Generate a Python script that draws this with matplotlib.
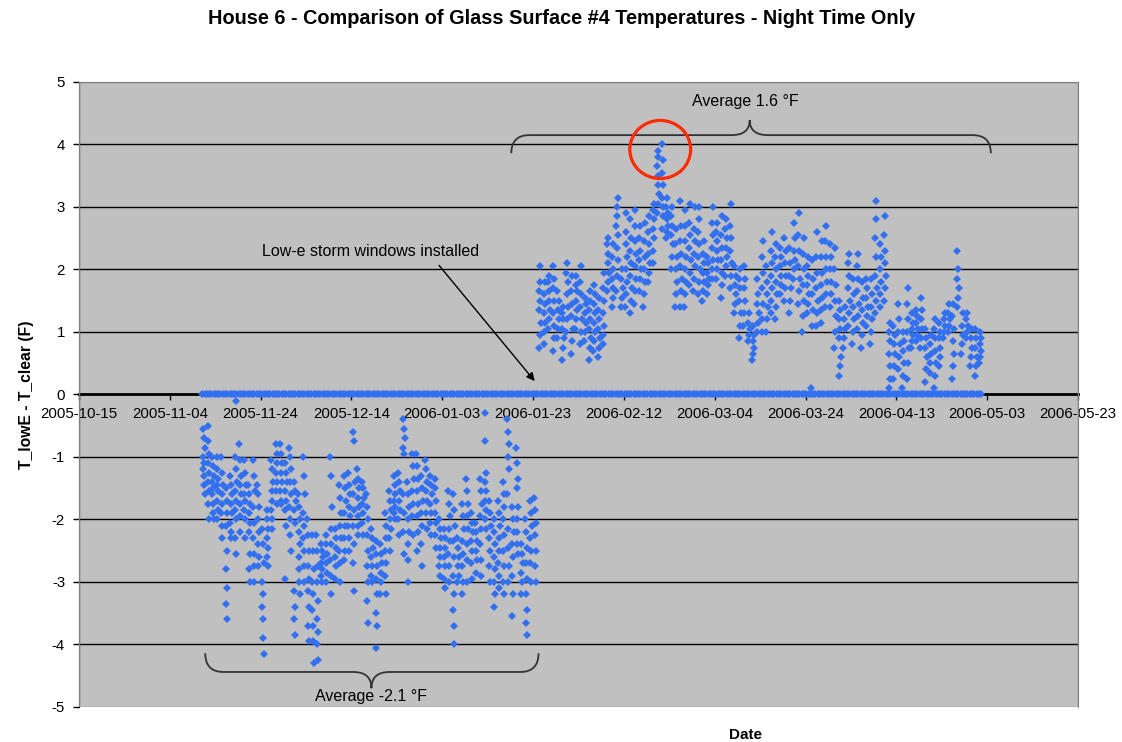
import datetime as dt
import matplotlib
matplotlib.use('Agg')
import matplotlib.pyplot as plt
import matplotlib.dates as mdates
from matplotlib.path import Path
from matplotlib.patches import PathPatch, Ellipse, Rectangle

plt.rcParams['font.family'] = ['Liberation Sans', 'DejaVu Sans']
plt.rcParams['axes.unicode_minus'] = False

# nightly readings before the low-e storm windows (one list per night, from 2005-11-11)
neg_start = dt.date(2005, 11, 11)
neg_nights = [
    [-0.55, -0.7, -0.85, -1.0, -1.1, -1.2, -1.3, -1.45, -1.6],
    [-0.5, -0.75, -0.95, -1.1, -1.25, -1.4, -1.55, -1.75, -2.0],
    [-1.0, -1.15, -1.3, -1.4, -1.5, -1.6, -1.75, -1.9, -2.0],
    [-1.0, -1.2, -1.35, -1.45, -1.55, -1.7, -1.85, -2.0],
    [-1.0, -1.25, -1.45, -1.6, -1.75, -1.9, -2.1, -2.3],
    [-1.5, -1.7, -1.9, -2.1, -2.5, -2.8, -3.1, -3.35, -3.6],
    [-1.3, -1.45, -1.6, -1.75, -1.9, -2.05, -2.2, -2.3],
    [-1.0, -1.2, -1.4, -1.55, -1.7, -1.85, -2.0, -2.3, -2.55],
    [-0.8, -1.05, -1.3, -1.45, -1.6, -1.75, -1.95, -2.2],
    [-1.05, -1.25, -1.45, -1.6, -1.7, -1.85, -2.0, -2.3],
    [-1.45, -1.6, -1.75, -1.9, -2.05, -2.2, -2.55, -2.8, -3.0],
    [-1.05, -1.3, -1.55, -1.8, -2.05, -2.3, -2.55, -2.75, -3.0],
    [-1.45, -1.6, -1.8, -2.0, -2.2, -2.4, -2.6, -2.75],
    [-2.15, -2.4, -2.7, -3.0, -3.2, -3.4, -3.6, -3.9, -4.15],
    [-1.85, -2.0, -2.15, -2.3, -2.45, -2.6, -2.75],
    [-1.05, -1.2, -1.4, -1.55, -1.7, -1.85, -2.0, -2.15],
    [-0.8, -0.95, -1.1, -1.25, -1.4, -1.55, -1.75],
    [-0.8, -0.95, -1.1, -1.25, -1.4, -1.55, -1.7, -1.75],
    [-1.1, -1.25, -1.4, -1.55, -1.7, -1.85, -2.1, -2.95],
    [-0.85, -1.0, -1.2, -1.4, -1.6, -1.8, -2.0, -2.25, -2.5],
    [-1.4, -1.55, -1.7, -1.85, -2.05, -3.15, -3.4, -3.6, -3.85],
    [-1.6, -1.8, -2.0, -2.2, -2.4, -2.6, -2.8, -3.0, -3.2],
    [-1.0, -1.3, -1.6, -1.9, -2.1, -2.3, -2.5, -2.75, -3.0],
    [-2.0, -2.25, -2.5, -2.75, -2.95, -3.15, -3.4, -3.7, -3.95],
    [-2.25, -2.5, -2.8, -3.0, -3.2, -3.45, -3.7, -3.95, -4.3],
    [-2.25, -2.5, -2.75, -3.0, -3.3, -3.6, -3.8, -4.0, -4.25],
    [-2.4, -2.5, -2.6, -2.7, -2.8, -2.9, -3.0],
    [-2.25, -2.4, -2.55, -2.7, -2.85, -3.0],
    [-1.0, -1.3, -1.8, -2.15, -2.4, -2.65, -2.9, -3.2],
    [-2.15, -2.3, -2.45, -2.6, -2.75, -2.95],
    [-1.45, -1.65, -1.9, -2.1, -2.3, -2.5, -2.7, -3.0],
    [-1.3, -1.5, -1.7, -1.9, -2.1, -2.3, -2.5, -2.65],
    [-1.25, -1.45, -1.6, -1.8, -1.95, -2.1, -2.3, -2.5],
    [-0.6, -0.75, -1.4, -1.6, -1.85, -2.1, -2.4, -2.7, -3.15],
    [-1.2, -1.35, -1.5, -1.65, -1.8, -1.95, -2.1, -2.25],
    [-1.4, -1.5, -1.65, -1.75, -1.9, -2.05, -2.25],
    [-1.6, -1.8, -2.0, -2.25, -2.5, -2.75, -3.0, -3.3, -3.65],
    [-2.15, -2.3, -2.45, -2.6, -2.75, -2.9, -3.0],
    [-2.35, -2.55, -2.75, -2.95, -3.2, -3.5, -3.7, -4.05],
    [-2.4, -2.55, -2.7, -2.85, -3.0, -3.2],
    [-1.9, -2.1, -2.3, -2.5, -2.7, -2.9, -3.2],
    [-1.55, -1.7, -1.85, -2.0, -2.15, -2.3, -2.5],
    [-1.3, -1.45, -1.6, -1.7, -1.8, -1.9, -2.0],
    [-1.25, -1.4, -1.55, -1.7, -1.85, -2.0, -2.25],
    [-0.4, -0.55, -0.7, -0.85, -0.95, -1.6, -1.9, -2.2, -2.55],
    [-1.4, -1.6, -1.8, -2.0, -2.2, -2.4, -2.65, -3.0],
    [-0.95, -1.15, -1.35, -1.55, -1.75, -1.95, -2.25],
    [-0.95, -1.15, -1.35, -1.55, -1.75, -1.95, -2.2, -2.5],
    [-1.3, -1.5, -1.7, -1.9, -2.1, -2.4, -2.75],
    [-1.05, -1.2, -1.4, -1.55, -1.7, -1.9, -2.15],
    [-1.3, -1.45, -1.6, -1.75, -1.9, -2.05, -2.25],
    [-1.35, -1.5, -1.7, -1.9, -2.05, -2.25, -2.45],
    [-2.0, -2.15, -2.3, -2.45, -2.6, -2.75, -2.9],
    [-2.15, -2.3, -2.45, -2.6, -2.75, -2.95, -3.1],
    [-1.55, -1.75, -1.95, -2.15, -2.35, -2.55, -2.75, -3.0],
    [-1.6, -1.85, -2.1, -2.35, -2.6, -2.9, -3.2, -3.45, -3.7, -4.0],
    [-2.3, -2.45, -2.6, -2.75, -2.9, -3.0],
    [-1.75, -1.95, -2.15, -2.35, -2.55, -2.75, -3.0, -3.2],
    [-1.35, -1.55, -1.75, -1.95, -2.15, -2.4, -2.65, -3.0],
    [-1.9, -2.05, -2.2, -2.35, -2.5, -2.7, -2.95],
    [-2.05, -2.2, -2.35, -2.5, -2.65, -2.85],
    [-1.35, -1.55, -1.75, -1.95, -2.15, -2.4, -2.65, -2.9],
    [-0.3, -0.75, -1.25, -1.4, -1.55, -1.7, -1.85, -2.0, -2.15],
    [-1.7, -1.9, -2.1, -2.3, -2.5, -2.75, -3.0],
    [-2.0, -2.2, -2.4, -2.6, -2.8, -3.0, -3.2, -3.4],
    [-1.7, -1.9, -2.1, -2.3, -2.5, -2.7, -2.9, -3.1],
    [-1.4, -1.6, -1.8, -2.0, -2.25, -2.5, -2.75, -3.0, -3.2],
    [-0.4, -0.6, -0.8, -1.0, -1.2, -1.6, -2.15, -2.45, -2.75, -3.0],
    [-1.8, -2.0, -2.2, -2.4, -2.6, -2.9, -3.2, -3.55],
    [-0.85, -1.1, -1.35, -1.5, -1.8, -2.0, -2.2, -2.4, -2.55],
    [-2.4, -2.55, -2.7, -2.85, -3.0, -3.2],
    [-2.0, -2.2, -2.45, -2.7, -2.95, -3.2, -3.45, -3.65, -3.85],
    [-1.7, -1.9, -2.1, -2.3, -2.5, -2.7, -3.0],
    [-1.65, -1.85, -2.05, -2.25, -2.5, -2.75, -3.0],
]

# nightly readings after installation (from 2006-01-24)
pos_start = dt.date(2006, 1, 24)
pos_nights = [
    [0.75, 0.95, 1.15, 1.35, 1.5, 1.65, 1.8, 2.05],
    [0.8, 1.0, 1.15, 1.3, 1.45, 1.6, 1.8],
    [1.05, 1.2, 1.35, 1.5, 1.65, 1.8, 1.9],
    [0.7, 0.9, 1.1, 1.3, 1.5, 1.7, 1.85, 2.05],
    [0.9, 1.05, 1.2, 1.35, 1.5, 1.65],
    [0.55, 0.75, 0.9, 1.05, 1.2, 1.3, 1.4],
    [1.0, 1.2, 1.4, 1.6, 1.8, 1.95, 2.1],
    [0.65, 0.85, 1.05, 1.25, 1.45, 1.65, 1.9],
    [1.05, 1.2, 1.35, 1.5, 1.65, 1.75, 1.9],
    [0.8, 1.0, 1.2, 1.4, 1.6, 1.8, 2.05],
    [0.85, 1.0, 1.15, 1.3, 1.45, 1.55],
    [0.55, 0.75, 0.9, 1.05, 1.2, 1.35, 1.5, 1.65],
    [0.7, 0.85, 1.0, 1.15, 1.3, 1.45, 1.6, 1.75],
    [0.6, 0.75, 0.9, 1.05, 1.2, 1.35, 1.55],
    [0.8, 0.95, 1.1, 1.3, 1.5, 1.7, 1.95],
    [1.65, 1.8, 1.95, 2.1, 2.25, 2.4, 2.5],
    [1.4, 1.55, 1.7, 1.85, 2.0, 2.2, 2.4],
    [1.65, 1.9, 2.15, 2.35, 2.55, 2.7, 2.85, 3.0, 3.15],
    [1.4, 1.55, 1.7, 1.85, 2.0],
    [1.4, 1.6, 1.8, 2.0, 2.2, 2.4, 2.6, 2.9],
    [1.3, 1.5, 1.7, 1.9, 2.1, 2.3, 2.5, 2.8],
    [1.45, 1.65, 1.85, 2.05, 2.25, 2.45, 2.7, 2.95],
    [1.65, 1.85, 2.0, 2.15, 2.3, 2.5, 2.7],
    [1.4, 1.6, 1.8, 2.0, 2.2, 2.45, 2.75],
    [1.8, 1.95, 2.1, 2.25, 2.4, 2.6, 2.85],
    [2.1, 2.3, 2.5, 2.65, 2.8, 2.95, 3.05],
    [2.9, 3.05, 3.2, 3.35, 3.5, 3.65, 3.8, 3.9],
    [2.65, 2.85, 3.0, 3.15, 3.35, 3.55, 3.75, 4.0],
    [2.5, 2.6, 2.7, 2.8, 2.9, 3.0, 3.15],
    [2.0, 2.2, 2.4, 2.55, 2.7, 2.85, 3.0],
    [1.4, 1.6, 1.8, 2.0, 2.2, 2.4, 2.65],
    [1.4, 1.65, 1.85, 2.05, 2.25, 2.45, 2.7, 3.1],
    [1.4, 1.6, 1.8, 2.0, 2.2, 2.45, 2.7, 2.95],
    [1.75, 1.95, 2.15, 2.35, 2.55, 2.75, 3.05],
    [1.65, 1.85, 2.05, 2.25, 2.45, 2.65, 3.0],
    [1.6, 1.8, 2.0, 2.2, 2.4, 2.6, 2.8, 3.0],
    [1.5, 1.65, 1.8, 1.95, 2.1, 2.25, 2.45],
    [1.6, 1.75, 1.85, 1.95, 2.1, 2.2],
    [1.85, 2.0, 2.15, 2.35, 2.55, 2.75, 3.0],
    [1.85, 2.0, 2.15, 2.3, 2.45, 2.6, 2.75],
    [1.55, 1.75, 1.95, 2.15, 2.35, 2.55, 2.85],
    [1.9, 2.05, 2.2, 2.35, 2.5, 2.65, 2.8],
    [1.7, 1.9, 2.1, 2.3, 2.5, 2.7, 3.05],
    [1.3, 1.45, 1.6, 1.75, 1.9, 2.05],
    [0.9, 1.1, 1.3, 1.5, 1.7, 1.85, 2.0],
    [1.1, 1.3, 1.5, 1.7, 1.85, 2.05],
    [0.85, 0.95, 1.05, 1.15, 1.3],
    [0.55, 0.65, 0.75, 0.85, 0.95, 1.1],
    [1.0, 1.15, 1.3, 1.45, 1.6, 1.85],
    [1.0, 1.2, 1.45, 1.7, 1.95, 2.2, 2.45],
    [1.0, 1.2, 1.4, 1.6, 1.8, 2.05],
    [1.3, 1.5, 1.7, 1.9, 2.1, 2.3, 2.6],
    [1.2, 1.4, 1.6, 1.8, 2.0, 2.2, 2.4],
    [1.6, 1.75, 1.9, 2.05, 2.2, 2.35],
    [1.5, 1.7, 1.9, 2.1, 2.3, 2.5],
    [1.3, 1.5, 1.7, 1.9, 2.1, 2.35],
    [1.85, 2.0, 2.15, 2.3, 2.5, 2.75],
    [1.45, 1.65, 1.85, 2.05, 2.3, 2.55, 2.9],
    [1.0, 1.25, 1.5, 1.75, 2.0, 2.25, 2.5],
    [1.3, 1.45, 1.6, 1.75, 1.9, 2.05, 2.2],
    [0.1, 1.1, 1.35, 1.6, 1.85, 2.15],
    [1.1, 1.3, 1.5, 1.7, 1.95, 2.2, 2.6],
    [1.15, 1.35, 1.55, 1.75, 1.95, 2.2, 2.45],
    [1.4, 1.6, 1.8, 2.0, 2.2, 2.45, 2.7],
    [1.4, 1.6, 1.8, 2.0, 2.2, 2.4],
    [0.75, 1.0, 1.25, 1.5, 1.75, 2.0, 2.35],
    [0.3, 0.45, 0.6, 0.9, 1.05, 1.2, 1.35, 1.5],
    [0.75, 0.9, 1.05, 1.2, 1.4],
    [1.1, 1.3, 1.5, 1.7, 1.9, 2.1, 2.25],
    [0.8, 1.0, 1.2, 1.4, 1.6, 1.85],
    [1.05, 1.25, 1.45, 1.65, 1.85, 2.05, 2.25],
    [0.75, 0.95, 1.15, 1.35, 1.55, 1.8],
    [1.1, 1.25, 1.4, 1.55, 1.7, 1.85],
    [0.8, 1.0, 1.2, 1.4, 1.6, 1.85],
    [1.3, 1.5, 1.7, 1.9, 2.2, 2.5, 2.8, 3.1],
    [1.4, 1.6, 1.8, 2.0, 2.2, 2.4],
    [1.5, 1.7, 1.9, 2.1, 2.3, 2.55, 2.85],
    [0.1, 0.25, 0.45, 0.65, 0.85, 1.0, 1.15],
    [0.25, 0.45, 0.65, 0.8, 0.95, 1.1],
    [0.4, 0.6, 0.8, 1.0, 1.2, 1.45],
    [0.1, 0.3, 0.5, 0.7, 0.85, 1.0],
    [0.25, 0.5, 0.75, 1.0, 1.2, 1.45, 1.7],
    [0.75, 0.85, 0.95, 1.05, 1.15, 1.3],
    [0.85, 0.95, 1.05, 1.15, 1.25, 1.35],
    [0.75, 0.9, 1.05, 1.2, 1.35, 1.55],
    [0.2, 0.4, 0.6, 0.75, 0.9, 1.05],
    [0.35, 0.5, 0.65, 0.8, 0.95],
    [0.1, 0.3, 0.5, 0.7, 0.9, 1.05, 1.2],
    [0.45, 0.6, 0.75, 0.9, 1.0, 1.15],
    [0.9, 1.0, 1.1, 1.2, 1.3],
    [1.0, 1.1, 1.2, 1.3, 1.45],
    [0.25, 0.45, 0.65, 0.85, 1.05, 1.25, 1.45],
    [1.4, 1.55, 1.7, 1.85, 2.0, 2.3],
    [0.65, 0.8, 0.95, 1.1, 1.3],
    [0.9, 1.0, 1.1, 1.2, 1.3],
    [0.45, 0.6, 0.75, 0.9, 1.05],
    [0.3, 0.45, 0.6, 0.75, 0.9, 1.05],
    [0.5, 0.6, 0.7, 0.8, 0.9, 1.0],
]

# daytime readings are logged as zero
zero_first = dt.date(2005, 11, 11)
zero_last = dt.date(2006, 5, 1)
zero_outlier_date = dt.date(2005, 11, 18)
zero_outlier_value = -0.1

tick_labels = ['2005-10-15', '2005-11-04', '2005-11-24', '2005-12-14', '2006-01-03',
               '2006-01-23', '2006-02-12', '2006-03-04', '2006-03-24', '2006-04-13',
               '2006-05-03', '2006-05-23']

blue = '#3370f0'
offsets = [0.3, 0.5, 0.7, 0.4, 0.6, 0.35, 0.55, 0.45, 0.65, 0.5]


def night_points(start, nights):
    xs, ys = [], []
    for k, vals in enumerate(nights):
        d0 = mdates.date2num(start + dt.timedelta(days=k))
        for i, v in enumerate(vals):
            xs.append(d0 + offsets[i % len(offsets)])
            ys.append(v)
    return xs, ys


x_neg, y_neg = night_points(neg_start, neg_nights)
x_pos, y_pos = night_points(pos_start, pos_nights)

x_zero = []
d = zero_first
while d <= zero_last:
    for f in (0.15, 0.65):
        x_zero.append(mdates.date2num(d) + f)
    d += dt.timedelta(days=1)
y_zero = [0.0] * len(x_zero)

fig = plt.figure(figsize=(11.22, 7.42), dpi=100)
ax = fig.add_axes([0.0704, 0.0472, 0.8904, 0.8423])
ax.set_facecolor('#c0c0c0')

for g in [-4, -3, -2, -1, 1, 2, 3, 4]:
    ax.axhline(g, color='black', lw=1.0, zorder=1)

ax.plot(x_zero, y_zero, linestyle='none', marker='D', ms=3.6, color=blue, mew=0, zorder=3)
ax.plot([mdates.date2num(zero_outlier_date) + 0.5], [zero_outlier_value], linestyle='none',
        marker='D', ms=3.6, color=blue, mew=0, zorder=3)
ax.plot(x_neg, y_neg, linestyle='none', marker='D', ms=4.0, color=blue, mew=0, zorder=3)
ax.plot(x_pos, y_pos, linestyle='none', marker='D', ms=4.0, color=blue, mew=0, zorder=3)

base = mdates.date2num(dt.date(2005, 10, 15))
ax.set_xlim(base, base + 220)
ax.set_ylim(-5, 5)
ax.set_xticks([base + 20 * i for i in range(len(tick_labels))])
ax.set_xticklabels(tick_labels)
ax.set_yticks(range(-5, 6))

ax.spines['bottom'].set_position(('data', 0))
ax.spines['bottom'].set_linewidth(2.0)
ax.spines['bottom'].set_zorder(2)
ax.spines['left'].set_color('black')
for s in ['top', 'right']:
    ax.spines[s].set_color('#808080')
ax.add_patch(Rectangle((0, 0), 1, 1, transform=ax.transAxes, fill=False,
                       edgecolor='#808080', lw=1.0, zorder=5))
ax.tick_params(axis='x', direction='out', length=4, width=1, pad=5, labelsize=10.8)
ax.tick_params(axis='y', direction='out', length=4, width=1, pad=6, labelsize=10.8)

# annotations
ax.annotate('', xy=(base + 100.75, 0.18), xytext=(base + 78.9, 2.1),
            arrowprops=dict(arrowstyle='-|>', color='black', lw=1.0, mutation_scale=12))
ax.text(base + 64.2, 2.28, 'Low-e storm windows installed', ha='center', va='center', fontsize=11.5)


def brace(x1, x2, xm, y_end, y_base, y_tip, w):
    verts = [(x1, y_end), (x1, y_base), (x1 + w, y_base),
             (xm - w, y_base), (xm, y_base), (xm, y_tip),
             (xm, y_base), (xm + w, y_base),
             (x2 - w, y_base), (x2, y_base), (x2, y_end)]
    codes = [Path.MOVETO, Path.CURVE3, Path.CURVE3, Path.LINETO, Path.CURVE3, Path.CURVE3,
             Path.CURVE3, Path.CURVE3, Path.LINETO, Path.CURVE3, Path.CURVE3]
    ax.add_patch(PathPatch(Path(verts, codes), fill=False, edgecolor='#333333', lw=1.3, zorder=4))


brace(base + 95.2, base + 200.8, base + 147.7, 3.86, 4.15, 4.39, 4.0)
brace(base + 27.8, base + 101.2, base + 64.4, -4.14, -4.44, -4.70, 4.0)
ax.text(base + 146.8, 4.68, 'Average 1.6 °F', ha='center', va='center', fontsize=11.5)
ax.text(base + 64.4, -4.84, 'Average -2.1 °F', ha='center', va='center', fontsize=11.5)

ax.add_patch(Ellipse((base + 128.0, 3.92), 13.4, 0.93, fill=False, edgecolor='#ff2a00',
                     lw=2.3, zorder=6))

fig.text(562 / 1122, 1 - 18 / 742, 'House 6 - Comparison of Glass Surface #4 Temperatures - Night Time Only',
         ha='center', va='center', fontsize=14.3, fontweight='bold')
fig.text(26 / 1122, 1 - 395 / 742, 'T_lowE - T_clear (F)', rotation=90, ha='center', va='center',
         fontsize=11.3, fontweight='bold')
fig.text(745 / 1122, 1 - 735 / 742, 'Date', ha='center', va='center', fontsize=11, fontweight='bold')

plt.savefig('out.png', dpi=100)
